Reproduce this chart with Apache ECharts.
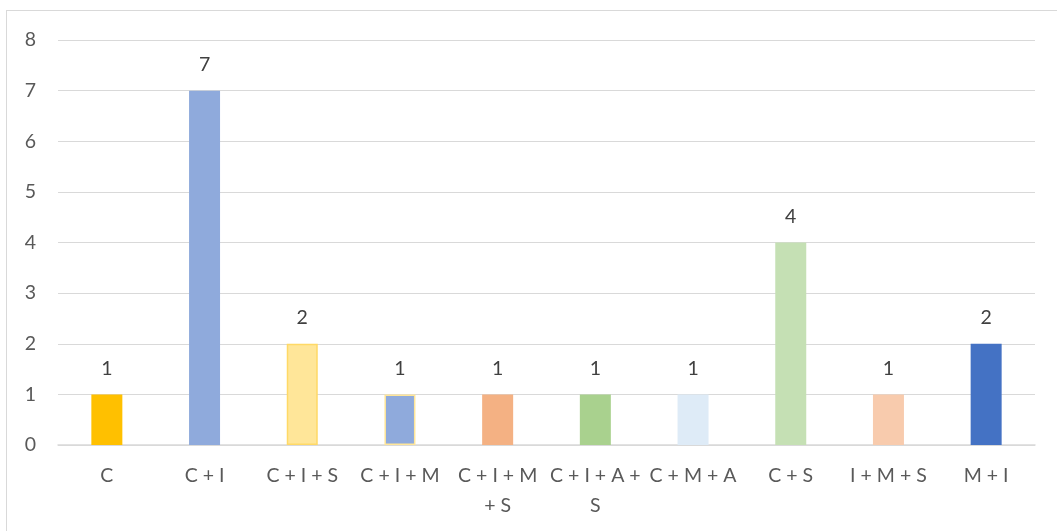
<!DOCTYPE html>
<html>
<head>
<meta charset="utf-8">
<script src="https://cdn.jsdelivr.net/npm/echarts@6/dist/echarts.min.js"></script>
<style>
  html, body { margin: 0; padding: 0; background: #fff; overflow: hidden; }
  #frame { position: absolute; left: 6px; top: 10px; width: 1100px; height: 600px; border: 1.5px solid #d9d9d9; }
  #chart { position: absolute; left: 0; top: 0; width: 1057px; height: 531px; }
</style>
</head>
<body>
<div id="frame"></div>
<div id="chart"></div>
<script>
// categories (as shown on the axis, with Excel's wrapping)
var categories = ['C', 'C + I', 'C + I + S', 'C + I + M', 'C + I + M\n+ S', 'C + I + A +\nS', 'C + M + A', 'C + S', 'I + M + S', 'M + I'];
var values = [1, 7, 2, 1, 1, 1, 1, 4, 1, 2];
var barColors = ['#FFC000', '#8FAADC', '#FFE699', '#8FAADC', '#F4B183', '#A9D18E', '#DEEBF7', '#C5E0B4', '#F8CBAD', '#4472C4'];
var barBorders = [null, null, '#FFD966', '#FFE699', null, null, null, null, null, null];
var yTicks = [0, 1, 2, 3, 4, 5, 6, 7, 8];

var font = 'Lato, "Open Sans", sans-serif';

var seriesData = values.map(function (v, i) {
  var item = { value: v, itemStyle: { color: barColors[i] } };
  if (barBorders[i]) {
    item.itemStyle.borderColor = barBorders[i];
    item.itemStyle.borderWidth = 1.5;
  }
  return item;
});

var mCharts = echarts.init(document.getElementById('chart'));
var option = {
  animation: false,
  textStyle: { fontFamily: font },
  grid: { left: 58, right: 22, top: 40, bottom: 86, containLabel: false },
  xAxis: {
    type: 'category',
    data: categories,
    axisLine: { lineStyle: { color: '#d9d9d9', width: 1.5 } },
    axisTick: { show: false },
    axisLabel: { color: '#595959', fontSize: 19.5, lineHeight: 30, margin: 16, interval: 0, fontFamily: font }
  },
  yAxis: {
    type: 'value',
    min: yTicks[0],
    max: yTicks[yTicks.length - 1],
    interval: 1,
    axisLine: { show: false },
    axisTick: { show: false },
    splitLine: { lineStyle: { color: '#d9d9d9', width: 1.2 } },
    axisLabel: { color: '#595959', fontSize: 19.5, margin: 22, fontFamily: font }
  },
  series: [
    {
      type: 'bar',
      barWidth: 31,
      data: seriesData,
      label: {
        show: true,
        position: 'top',
        distance: 16,
        color: '#404040',
        fontSize: 19.5,
        fontFamily: font
      }
    }
  ]
};
mCharts.setOption(option);
</script>
</body>
</html>
